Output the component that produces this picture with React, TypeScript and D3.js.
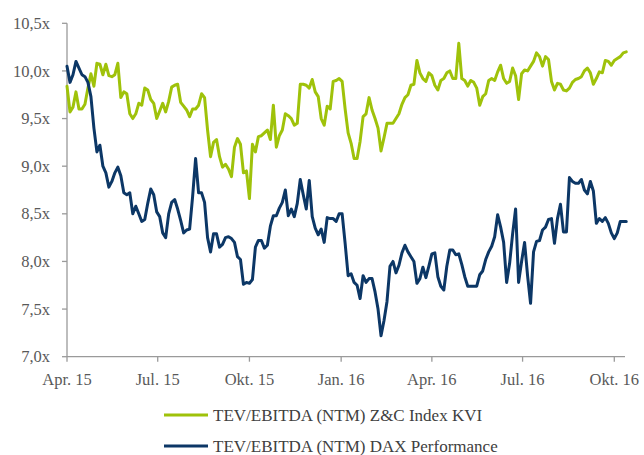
import React from "react";
import * as d3 from "d3";

// one point every 3 days, starting 1 Apr 2015
const startDate = new Date(2015, 3, 1);
const stepDays = 3;

const zcIndex = [
  9.84, 9.57, 9.62, 9.78, 9.6, 9.6, 9.65, 9.82, 9.97, 9.84,
  10.08, 10.07, 9.96, 10.07, 9.95, 9.94, 9.96, 10.08, 9.72, 9.78,
  9.76, 9.55, 9.5, 9.55, 9.66, 9.64, 9.82, 9.8, 9.7, 9.66,
  9.5, 9.58, 9.66, 9.57, 9.68, 9.83, 9.85, 9.86, 9.67, 9.63,
  9.59, 9.52, 9.6, 9.6, 9.64, 9.76, 9.72, 9.38, 9.1, 9.25,
  9.28, 9.1, 8.99, 9.02, 8.97, 8.89,
  9.2, 9.29, 9.23, 8.93, 8.95, 8.66, 9.23, 9.15, 9.31, 9.32,
  9.35, 9.38, 9.28, 9.64, 9.2, 9.32, 9.38, 9.55, 9.53, 9.5,
  9.43, 9.45, 9.86, 9.86, 9.85, 9.82, 9.91, 9.78, 9.73, 9.5,
  9.43, 9.63, 9.6, 9.89, 9.9, 9.92, 9.89, 9.6, 9.35, 9.24,
  9.08, 9.08, 9.26, 9.52, 9.55, 9.72, 9.59, 9.5, 9.4, 9.16,
  9.3, 9.45, 9.45, 9.45, 9.5, 9.55, 9.65, 9.72, 9.75, 9.85,
  9.86, 10.11, 9.98, 9.92, 9.89, 9.98, 9.95, 9.85, 9.8, 9.9,
  9.92, 9.98, 10.0, 9.92, 9.92, 10.29, 9.92, 9.9, 9.84, 9.9,
  9.88, 9.82, 9.64, 9.73, 9.76, 9.9, 9.92, 9.9, 9.99, 10.06,
  9.92, 9.87, 9.89, 10.03, 9.95, 9.7, 9.97, 10.01, 10.0, 10.05,
  10.1, 10.19, 10.15, 10.05, 10.15, 10.12, 9.89, 9.8, 9.87, 9.86,
  9.8,
  9.79, 9.82, 9.88, 9.91, 9.92, 9.94, 10.0, 10.03, 9.98, 9.86,
  9.92, 9.99, 9.98, 10.11, 10.1, 10.06, 10.11, 10.13, 10.15, 10.19,
  10.2,
];

const daxPerf = [
  10.05, 9.88, 9.96, 10.1, 10.03, 9.96, 9.94, 9.88, 9.73, 9.4,
  9.15, 9.22, 9.0, 8.93, 8.78, 8.84, 8.93, 8.99, 8.9, 8.72,
  8.7, 8.72, 8.5, 8.58, 8.5, 8.42, 8.44, 8.61, 8.76, 8.7,
  8.52, 8.47, 8.3, 8.25, 8.5, 8.62, 8.65, 8.55, 8.43, 8.3,
  8.33, 8.34, 8.68, 9.08, 8.72, 8.72, 8.62, 8.25, 8.1, 8.29,
  8.29, 8.15, 8.18, 8.25, 8.26, 8.24,
  8.2, 8.05, 8.02, 7.76, 7.78, 7.77, 7.81, 8.15, 8.22, 8.22,
  8.14, 8.17, 8.37, 8.48, 8.48, 8.56, 8.62, 8.75, 8.48, 8.55,
  8.47, 8.61, 8.86, 8.7, 8.55, 8.85, 8.47, 8.35, 8.28, 8.34,
  8.2, 8.46, 8.45, 8.45, 8.42, 8.5, 8.5, 8.19, 7.85, 7.87,
  7.78, 7.75, 7.61, 7.85, 7.78, 7.82, 7.82, 7.68, 7.5, 7.22,
  7.38, 7.58, 7.95, 8.0, 7.88, 7.96, 8.09, 8.17, 8.1, 8.05,
  8.0, 7.77, 7.82, 7.94, 7.83, 7.95, 8.08, 8.09, 7.84, 7.74,
  7.7, 7.95, 8.12, 8.12, 8.07, 8.08, 7.97, 7.84, 7.74, 7.74,
  7.74, 7.74, 7.86, 7.9, 8.02, 8.1, 8.16, 8.26, 8.49, 8.36,
  8.2, 7.78, 7.98, 8.29, 8.55, 7.78, 8.0, 8.2, 7.85, 7.56,
  8.1, 8.21, 8.22, 8.33, 8.36, 8.44, 8.45, 8.19, 8.45, 8.6,
  8.31,
  8.31, 8.88, 8.84, 8.82, 8.82, 8.86, 8.75, 8.71, 8.84, 8.74,
  8.4, 8.45, 8.42, 8.46, 8.4, 8.3, 8.24, 8.3, 8.42, 8.42,
  8.42,
];

const seriesNames = [
  "TEV/EBITDA (NTM) Z&C Index KVI",
  "TEV/EBITDA (NTM) DAX Performance",
];
const seriesColors = ["#9fc20a", "#0c3766"];

const yTicks = [7.0, 7.5, 8.0, 8.5, 9.0, 9.5, 10.0, 10.5];
const xTickDates = [
  new Date(2015, 3, 1),
  new Date(2015, 6, 1),
  new Date(2015, 9, 1),
  new Date(2016, 0, 1),
  new Date(2016, 3, 1),
  new Date(2016, 6, 1),
  new Date(2016, 9, 1),
];
const xTickLabels = ["Apr. 15", "Jul. 15", "Okt. 15", "Jan. 16", "Apr. 16", "Jul. 16", "Okt. 16"];

const W = 644;
const H = 455;
const FONT = "Liberation Serif, Tinos, Times, DejaVu Serif, serif";

const App: React.FC = () => {
  const x = d3
    .scaleTime()
    .domain([new Date(2015, 3, 1), new Date(2016, 9, 1)])
    .range([67, 614.3]);
  const y = d3.scaleLinear().domain([7, 10.5]).range([356.7, 23.3]);

  const dateAt = (i: number) => d3.timeDay.offset(startDate, i * stepDays);
  const line = d3
    .line<number>()
    .x((_, i) => x(dateAt(i)))
    .y((d) => y(d));

  const axisColor = "#9a9a9a";
  const labelColor = "#595959";
  const fmt = (v: number) => v.toFixed(1).replace(".", ",") + "x";

  return (
    <div style={{ position: "fixed", left: 0, top: 0 }}>
      <svg width={W} height={H} fontFamily={FONT} style={{ display: "block", background: "#fff" }}>
        {/* y axis */}
        <line x1={67} x2={67} y1={y(10.5)} y2={y(7)} stroke={axisColor} strokeWidth={1.3} />
        {yTicks.map((t) => (
          <g key={t}>
            <line x1={62} x2={67} y1={y(t)} y2={y(t)} stroke={axisColor} strokeWidth={1.3} />
            <text x={50} y={y(t)} dy="0.34em" textAnchor="end" fontSize={16.5} fill={labelColor}>
              {fmt(t)}
            </text>
          </g>
        ))}
        {/* x axis */}
        <line x1={67} x2={625} y1={y(7)} y2={y(7)} stroke={axisColor} strokeWidth={1.3} />
        {xTickDates.map((d, i) => (
          <g key={i}>
            <line x1={x(d)} x2={x(d)} y1={y(7)} y2={y(7) + 5} stroke={axisColor} strokeWidth={1.3} />
            <text x={x(d)} y={385} textAnchor="middle" fontSize={16.5} fill={labelColor}>
              {xTickLabels[i]}
            </text>
          </g>
        ))}
        {/* series */}
        {[zcIndex, daxPerf].map((s, k) => (
          <path
            key={k}
            d={line(s) || ""}
            fill="none"
            stroke={seriesColors[k]}
            strokeWidth={3}
            strokeLinejoin="round"
            strokeLinecap="round"
          />
        ))}
        {/* legend */}
        {seriesNames.map((n, k) => {
          const ly = 415 + k * 31;
          return (
            <g key={n}>
              <line x1={164} x2={208} y1={ly} y2={ly} stroke={seriesColors[k]} strokeWidth={3} />
              <text x={213} y={ly} dy="0.34em" fontSize={17} fill="#404040">
                {n}
              </text>
            </g>
          );
        })}
      </svg>
    </div>
  );
};

export default App;
